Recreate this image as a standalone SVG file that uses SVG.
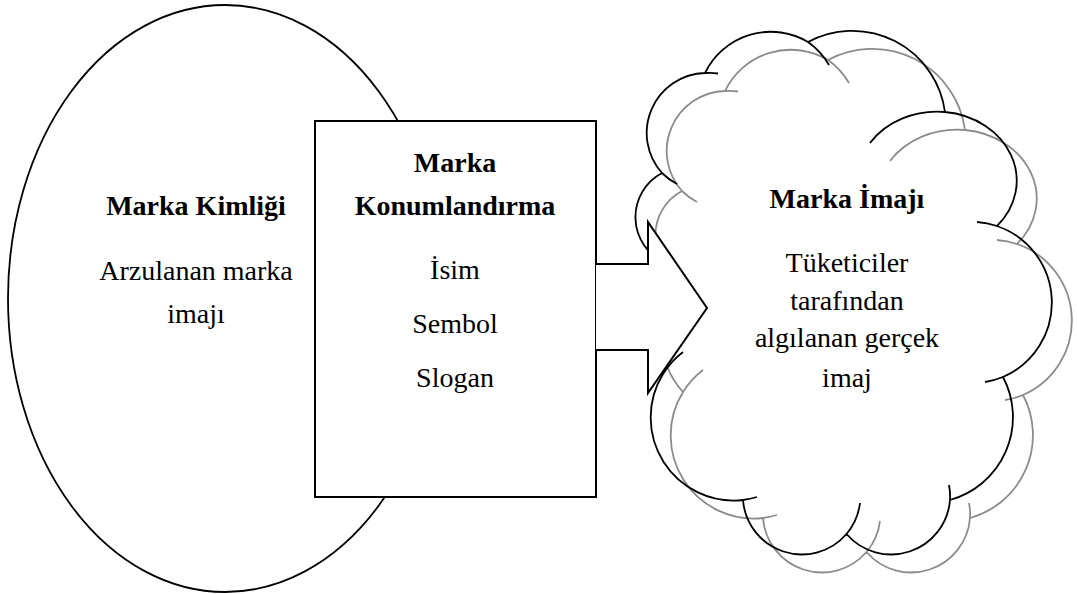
<svg xmlns="http://www.w3.org/2000/svg" xmlns:xlink="http://www.w3.org/1999/xlink" width="1077" height="594" viewBox="0 0 1077 594">
<style>
.t{font-family:"Liberation Serif","Times New Roman",serif;font-size:28px;fill:#000;text-anchor:middle}
.b{font-weight:bold}
.ln{fill:none;stroke-width:1.8;stroke-linejoin:round}
</style>
<defs>
<path id="cloudOutline" d="M662,173 A60,60 0 0 1 705,73 A73,73 0 0 1 808,42 A93.5,93.5 0 0 1 945,112 A80,69 0 0 1 997,226 A81,81 0 0 1 1003,377 A86,86 0 0 1 950,500 A59,59 0 0 1 846.5,534 A59,59 0 0 1 743,500 A83,83 0 0 1 663,374 A81.5,81.5 0 0 1 665,262.8 A50,50 0 0 1 662,173 Z"/>
<path id="cloudCreases" d="M677,184 A60,60 0 0 1 662,173 M705,73 A60,60 0 0 1 718,73.5 M808,42 A73,73 0 0 1 829,65 M870,143 A80,69 0 0 1 945,112 M977,222 A81,81 0 0 1 997,226 M1003,377 A81,81 0 0 1 985,382 M949,485 A59,59 0 0 1 950,500 M860,503 A59,59 0 0 1 846.5,534 M757,497 A83,83 0 0 1 743,500 M663,374 A83,83 0 0 1 683,352"/>
</defs>
<g id="marka-kimligi">
<ellipse cx="225" cy="298.5" rx="217" ry="293.5" fill="#fff" stroke="#000" stroke-width="1.8"/>
<text class="t b" x="196" y="215">Marka Kimliği</text>
<text class="t" x="196" y="280">Arzulanan marka</text>
<text class="t" x="196" y="323">imajı</text>
</g>
<g id="marka-konumlandirma">
<rect x="315" y="121" width="281" height="376" fill="#fff" stroke="#000" stroke-width="2"/>
<text class="t b" x="455" y="172">Marka</text>
<text class="t b" x="455" y="215">Konumlandırma</text>
<text class="t" x="455" y="279">İsim</text>
<text class="t" x="455" y="333">Sembol</text>
<text class="t" x="455" y="387">Slogan</text>
</g>
<g id="marka-imaji">
<g transform="translate(20,18)" stroke="#8c8c8c">
<use xlink:href="#cloudOutline" class="ln"/>
<use xlink:href="#cloudCreases" class="ln"/>
</g>
<g stroke="#000">
<use xlink:href="#cloudOutline" class="ln"/>
</g>
</g>
<g id="connectors">
<path d="M596,264 L648,264 L648,222 L707,308 L648,393 L648,350 L596,350" fill="#fff" stroke="#000" stroke-width="2" stroke-linejoin="miter"/>
</g>
<g id="marka-imaji-details" stroke="#000">
<use xlink:href="#cloudCreases" class="ln"/>
<text class="t b" x="847" y="208" stroke="none">Marka İmajı</text>
<text class="t" x="847" y="272" stroke="none">Tüketiciler</text>
<text class="t" x="847" y="310" stroke="none">tarafından</text>
<text class="t" x="847" y="347" stroke="none">algılanan gerçek</text>
<text class="t" x="847" y="387" stroke="none">imaj</text>
</g>
</svg>
